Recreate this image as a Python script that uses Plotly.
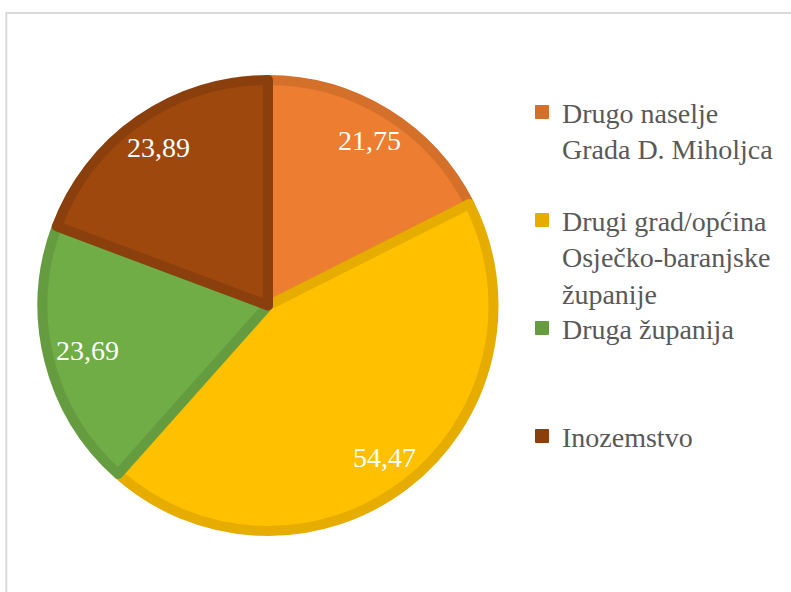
import math
import plotly.graph_objects as go

# ---- data ----
categories = [
    "Drugo naselje<br>Grada D. Miholjca",
    "Drugi grad/općina<br>Osječko-baranjske<br>županije",
    "Druga županija",
    "Inozemstvo",
]
values = [21.75, 54.47, 23.69, 23.89]
value_labels = ["21,75", "54,47", "23,69", "23,89"]

# ---- style ----
fill_colors = ["#ED7D31", "#FFC000", "#70AD47", "#9E480E"]
edge_colors = ["#D5702B", "#E6AD00", "#659C40", "#8A3F0C"]
FONT = "Liberation Serif, Times New Roman, serif"
FS = 28
W, H = 791, 592
CX, CY, R = 268.0, 305.5, 225.5          # pie centre / radius in pixels
LINE_W = 10
legend_tops = [0.9140, 0.79307, 0.48767, 0.30524]

fig = go.Figure()
fig.add_trace(go.Pie(
    labels=categories, values=values, sort=False, direction="clockwise",
    rotation=0, textinfo="none", hoverinfo="label+value", showlegend=False,
    marker=dict(colors=fill_colors, line=dict(color=edge_colors, width=LINE_W)),
    domain=dict(x=[(CX - R) / W, (CX + R) / W],
                y=[(H - CY - R) / H, (H - CY + R) / H]),
))

# value labels placed "inside end" of each slice
total = sum(values)
cum = 0.0
annotations = []
D = 219.0
for v, t in zip(values, value_labels):
    mid = (cum + v / 2) / total * 2 * math.pi
    cum += v
    ux, uy = math.sin(mid), -math.cos(mid)
    half_w = len(t) * 0.45 * FS / 2
    half_h = 10
    d = D - (half_w * abs(ux) + half_h * abs(uy))
    px, py = CX + d * ux, CY + d * uy
    annotations.append(dict(x=px / W, y=1 - py / H, xref="paper", yref="paper",
                            xanchor="center", yanchor="middle",
                            text=t, showarrow=False,
                            font=dict(family=FONT, size=FS, color="white")))

# legend: one legend per category so the spacing follows the reference
legend_layout = {}
for i, (cat, fc, ec) in enumerate(zip(categories, fill_colors, edge_colors)):
    n = cat.count("<br>") + 1
    name = "<br>" * (n - 1) + cat
    lname = "legend" if i == 0 else f"legend{i + 1}"
    fig.add_trace(go.Scatter(
        x=[None], y=[None], mode="markers", name=name, legend=lname,
        marker=dict(symbol="square", size=13, color=ec, line=dict(color=ec, width=1)),
        hoverinfo="skip",
    ))
    legend_layout[lname] = dict(
        x=(562 - 40) / W, xanchor="left", y=legend_tops[i], yanchor="top",
        bgcolor="rgba(0,0,0,0)", borderwidth=0,
        font=dict(family=FONT, size=FS, color="#595959"),
    )

fig.update_layout(
    width=W, height=H, margin=dict(l=0, r=0, t=0, b=0),
    paper_bgcolor="white", plot_bgcolor="white",
    xaxis=dict(visible=False), yaxis=dict(visible=False),
    annotations=annotations,
    shapes=[dict(type="rect", xref="paper", yref="paper",
                 x0=6.3 / W, x1=1.05, y0=-0.05, y1=1 - 13 / H,
                 line=dict(color="#D9D9D9", width=2), fillcolor="rgba(0,0,0,0)")],
    **legend_layout,
)

fig.write_html("out.html", config={"displayModeBar": False},
               post_script="document.body.style.margin='0px';")
